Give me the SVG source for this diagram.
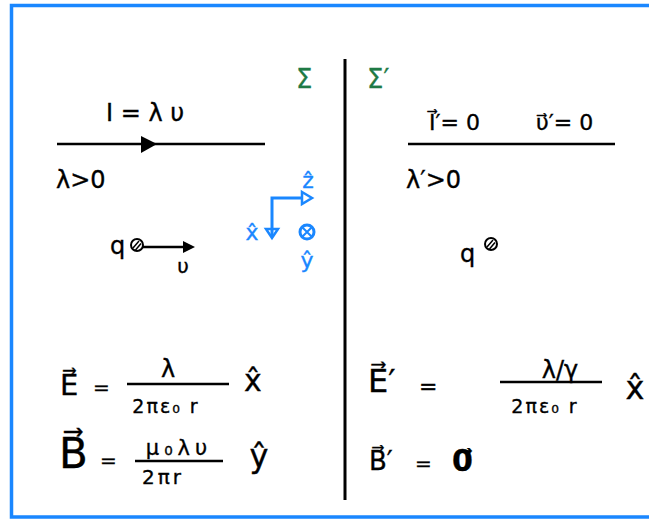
<svg xmlns="http://www.w3.org/2000/svg" width="649" height="520" viewBox="0 0 649 520">
<defs>
<style>
.t{font-family:"DejaVu Sans","Liberation Sans",sans-serif;fill:#000;stroke:#000;stroke-width:0.35}
.b{fill:#1a87ff;stroke:#1a87ff}
.g{fill:#1f7a45;stroke:#1f7a45;stroke-width:0.3}
.ln{stroke:#000;stroke-width:2.5;fill:none}
.bl{stroke:#1a87ff;stroke-width:3;fill:none}
</style>
</defs>
<rect x="0" y="0" width="649" height="520" fill="#fff"/>
<path d="M660,5.5 H11.5 V517 H660" fill="none" stroke="#1a87ff" stroke-width="3.5"/>
<line x1="345" y1="59" x2="345" y2="500" stroke="#000" stroke-width="3"/>

<g id="sigma-left"><text class="t g" x="296" y="88" font-size="26">Σ</text></g>
<g id="sigma-right"><text class="t g" x="367" y="88" font-size="26">Σ′</text></g>

<g id="wire-left">
<line class="ln" x1="57" y1="144" x2="265" y2="144"/>
<polygon points="141,136 157,144 141,153" fill="#000"/>
<text class="t" x="106" y="121" font-size="24">I = λ υ</text>
<text class="t" x="56" y="188" font-size="24">λ&gt;0</text>
</g>

<g id="axes">
<polyline class="bl" points="272,236 272,198 302,198"/>
<polygon points="302,192 312,198 302,204" fill="none" stroke="#1a87ff" stroke-width="2.5"/>
<polygon points="266,229 278,229 272,238" fill="none" stroke="#1a87ff" stroke-width="2.5"/>
<text class="t b" x="308" y="188" font-size="22" text-anchor="middle">ẑ</text>
<text class="t b" x="252" y="240" font-size="22" text-anchor="middle">x̂</text>
<circle cx="307" cy="232" r="7" fill="none" stroke="#1a87ff" stroke-width="3"/>
<path d="M302.5,227.5 L311.5,236.5 M311.5,227.5 L302.5,236.5" stroke="#1a87ff" stroke-width="2"/>
<text class="t b" x="307" y="268" font-size="22" text-anchor="middle">ŷ</text>
</g>

<g id="charge-left">
<text class="t" x="110" y="254" font-size="24">q</text>
<circle cx="137" cy="245" r="6" fill="none" stroke="#000" stroke-width="2"/>
<path d="M133,248 L139,241 M135.5,250 L141,243.5" stroke="#000" stroke-width="1.5"/>
<line class="ln" x1="143" y1="247" x2="184" y2="247" stroke-width="2"/>
<polygon points="183,241 195,247 183,253" fill="#000"/>
<text class="t" x="183" y="273" font-size="20" text-anchor="middle">υ</text>
</g>

<g id="wire-right">
<line class="ln" x1="408" y1="144" x2="615" y2="144"/>
<text class="t" x="429" y="130" font-size="22">I⃗′= 0</text>
<text class="t" x="536" y="130" font-size="22">υ⃗′= 0</text>
<text class="t" x="406" y="188" font-size="24">λ′&gt;0</text>
</g>

<g id="charge-right">
<text class="t" x="460" y="262" font-size="24">q</text>
<circle cx="491" cy="244" r="6" fill="none" stroke="#000" stroke-width="2"/>
<path d="M487,247 L493,240 M489.5,249 L495,242.5" stroke="#000" stroke-width="1.5"/>
</g>

<g id="E-left">
<text class="t" x="60" y="395" font-size="29">E⃗</text>
<text class="t" x="93" y="394" font-size="20">=</text>
<line class="ln" x1="127" y1="384" x2="229" y2="384" stroke-width="3"/>
<text class="t" x="168" y="377" font-size="24" text-anchor="middle">λ</text>
<text class="t" x="166" y="413" font-size="19" text-anchor="middle" letter-spacing="2">2πε₀ r</text>
<text class="t" x="253" y="391" font-size="30" text-anchor="middle">x̂</text>
</g>

<g id="B-left">
<text class="t" x="59" y="468" font-size="42">B⃗</text>
<text class="t" x="100" y="467" font-size="20">=</text>
<line class="ln" x1="135" y1="461" x2="223" y2="461" stroke-width="3"/>
<text class="t" x="179" y="455" font-size="21" text-anchor="middle" letter-spacing="5">μ₀λυ</text>
<text class="t" x="163" y="484" font-size="20" text-anchor="middle" letter-spacing="3">2πr</text>
<text class="t" x="259" y="467" font-size="32" text-anchor="middle">ŷ</text>
</g>

<g id="E-right">
<text class="t" x="368" y="392" font-size="32">E⃗′</text>
<text class="t" x="419" y="394" font-size="22">=</text>
<line class="ln" x1="500" y1="382" x2="602" y2="382" stroke-width="3"/>
<text class="t" x="560" y="378" font-size="24" text-anchor="middle">λ/γ</text>
<text class="t" x="545" y="413" font-size="19" text-anchor="middle" letter-spacing="2">2πε₀ r</text>
<text class="t" x="635" y="399" font-size="32" text-anchor="middle">x̂</text>
</g>

<g id="B-right">
<text class="t" x="369" y="470" font-size="26">B⃗′</text>
<text class="t" x="415" y="470" font-size="20">=</text>
<text class="t" x="452" y="471" font-size="30" font-weight="bold">0⃗</text>
</g>
</svg>
